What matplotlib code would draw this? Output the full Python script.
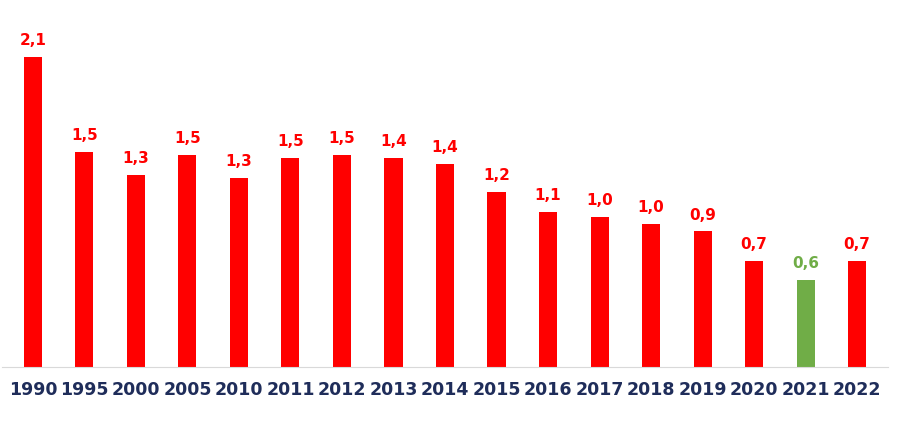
import matplotlib
matplotlib.use("Agg")
import matplotlib.pyplot as plt

years = ["1990","1995","2000","2005","2010","2011","2012","2013","2014","2015","2016","2017","2018","2019","2020","2021","2022"]
values = [2.10,1.46,1.30,1.44,1.28,1.42,1.44,1.42,1.38,1.19,1.05,1.02,0.97,0.92,0.72,0.59,0.72]
labels = ["2,1","1,5","1,3","1,5","1,3","1,5","1,5","1,4","1,4","1,2","1,1","1,0","1,0","0,9","0,7","0,6","0,7"]

RED = "#FF0000"; GREEN = "#70AD47"
colors = [GREEN if y == "2021" else RED for y in years]

fig = plt.figure(figsize=(8.97, 4.32), dpi=100)
ax = fig.add_axes([2/897, 0.15, 886/897, 0.82])
x = range(len(years))
bars = ax.bar(x, values, width=0.35, color=colors)
for xi, v, lab, c in zip(x, values, labels, colors):
    ax.text(xi, v + 0.06, lab, ha="center", va="bottom", color=c, fontsize=11, fontweight="bold")
ax.set_xlim(-0.6, 16.6)
ax.set_ylim(0, 2.4)
ax.set_xticks(list(x))
ax.set_xticklabels(years, fontsize=12.5, fontweight="bold", color="#1F2D5A")
ax.tick_params(axis="x", length=0, pad=10)
ax.set_yticks([])
for s in ["top", "right", "left"]:
    ax.spines[s].set_visible(False)
ax.spines["bottom"].set_color("#D9D9D9")
fig.savefig("out.png", dpi=100)
